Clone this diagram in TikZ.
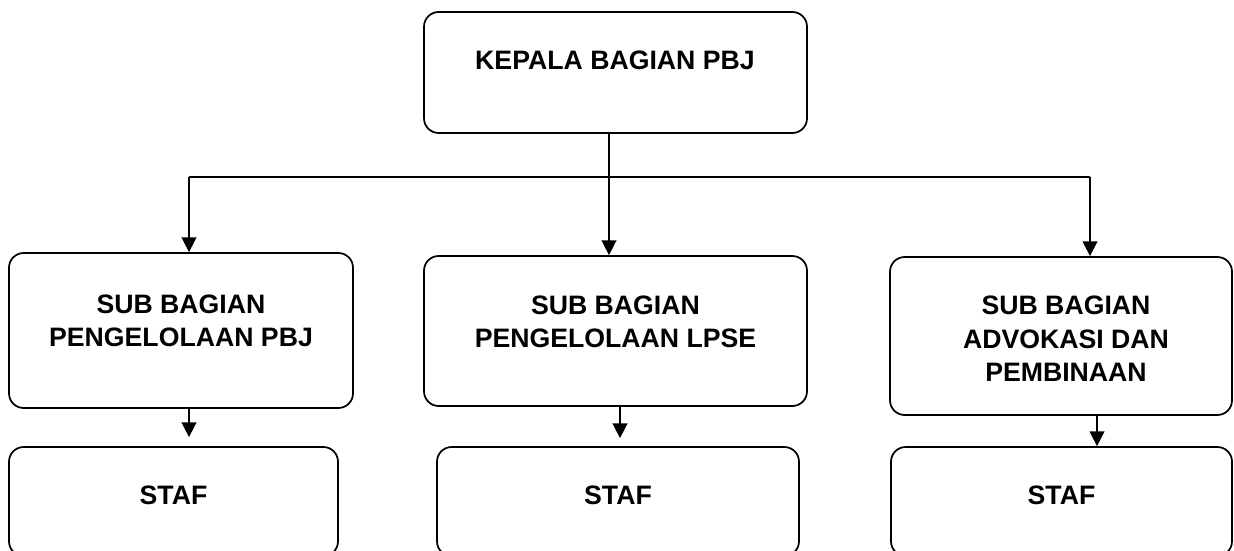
\documentclass[tikz,border=0pt]{standalone}
\usepackage{fontspec}
\setmainfont{Liberation Sans}
\usetikzlibrary{arrows.meta}
\tikzset{
  box/.style={draw=black, line width=1.3pt, rounded corners=11pt, fill=white, inner sep=0pt},
  txt/.style={font=\bfseries\fontsize{20}{25}\selectfont, align=center, inner sep=0pt},
  conn/.style={draw=black, line width=1.1pt},
  arr/.style={conn, -{Triangle[length=11pt,width=11pt]}}
}
\begin{document}
\begin{tikzpicture}[x=0.75pt,y=-0.75pt]
\clip (0,0) rectangle (1234,550);
\fill[white] (0,0) rectangle (1234,550);
% boxes
\node[box, minimum width={383*0.75pt}, minimum height={121*0.75pt}] (k) at (615.5,72.5) {};
\node[box, minimum width={344*0.75pt}, minimum height={155*0.75pt}] (sl) at (181,330.5) {};
\node[box, minimum width={383*0.75pt}, minimum height={150*0.75pt}] (sm) at (615.5,331) {};
\node[box, minimum width={342*0.75pt}, minimum height={158*0.75pt}] (sr) at (1061,336) {};
\node[box, minimum width={329*0.75pt}, minimum height={109*0.75pt}] (stl) at (173.5,501.5) {};
\node[box, minimum width={362*0.75pt}, minimum height={109*0.75pt}] (stm) at (618,501.5) {};
\node[box, minimum width={341*0.75pt}, minimum height={109*0.75pt}] (str) at (1061.5,501.5) {};
% texts
\node[txt] (kt) at (615,60) {KEPALA BAGIAN PBJ};
\node[txt] (slt) at (181,321) {SUB BAGIAN\\PENGELOLAAN PBJ};
\node[txt] (smt) at (615.5,322) {SUB BAGIAN\\PENGELOLAAN LPSE};
\node[txt] (srt) at (1066,339) {SUB BAGIAN\\ADVOKASI DAN\\PEMBINAAN};
\node[txt] (stlt) at (173.5,495) {STAF};
\node[txt] (stmt) at (618,495) {STAF};
\node[txt] (strt) at (1061.5,495) {STAF};
% junction coordinates
\coordinate (jl) at (189,177);
\coordinate (jm) at (609,177);
\coordinate (jr) at (1090,177);
\coordinate (al) at (189,0);
\coordinate (am) at (620,0);
\coordinate (ar) at (1097,0);
% connectors
\draw[conn] (jl) -- (jr);
\draw[arr] (k.south -| jm) -- (sm.north -| jm);
\draw[arr] (jl) -- (sl.north -| jl);
\draw[arr] (jr) -- (sr.north -| jr);
\draw[arr, shorten >={9*0.75pt}] (sl.south -| al) -- (stl.north -| al);
\draw[arr, shorten >={8*0.75pt}] (sm.south -| am) -- (stm.north -| am);
\draw[arr] (sr.south -| ar) -- (str.north -| ar);
\end{tikzpicture}
\end{document}
